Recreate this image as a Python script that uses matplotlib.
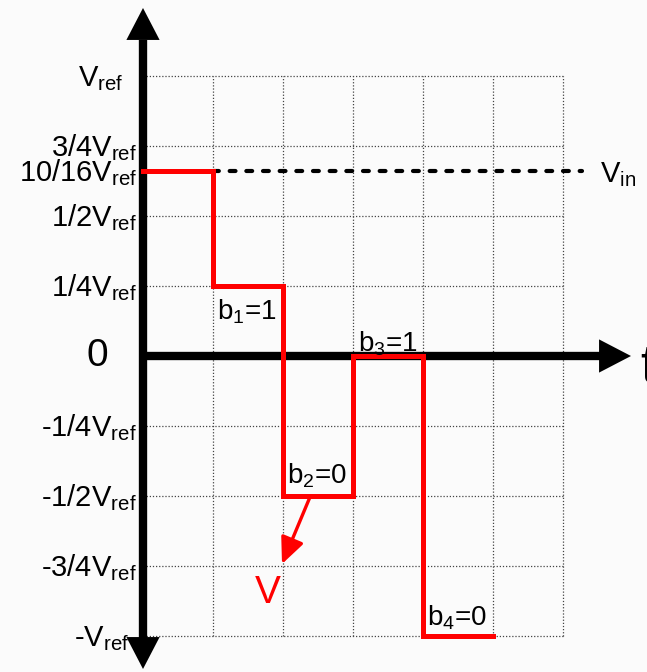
import matplotlib
matplotlib.use("Agg")
import matplotlib.pyplot as plt

plt.rcParams['font.family'] = 'Liberation Sans'
plt.rcParams['mathtext.fontset'] = 'custom'
plt.rcParams['mathtext.rm'] = 'Liberation Sans'
plt.rcParams['mathtext.it'] = 'Liberation Sans'

# data (voltages in units of Vref, time in conversion steps)
vin = 0.66
step_t = [0, 1, 2, 3, 4, 5]
step_v = [0.66, 0.25, -0.5, 0, -1, -1]
bit_names = ['b$_1$=1', 'b$_2$=0', 'b$_3$=1', 'b$_4$=0']
tick_vals = [1, 0.75, 0.66, 0.5, 0.25, -0.25, -0.5, -0.75, -1]
tick_labels = ['V$_{\\mathrm{ref}}$', '3/4V$_{\\mathrm{ref}}$', '10/16V$_{\\mathrm{ref}}$',
               '1/2V$_{\\mathrm{ref}}$', '1/4V$_{\\mathrm{ref}}$', '-1/4V$_{\\mathrm{ref}}$',
               '-1/2V$_{\\mathrm{ref}}$', '-3/4V$_{\\mathrm{ref}}$', '-V$_{\\mathrm{ref}}$']
grid_t = [1, 2, 3, 4, 5, 6]
grid_v = [1, 0.75, 0.5, 0.25, -0.25, -0.5, -0.75, -1]

# pixel -> data helpers for layout
def px(x):
    return (x - 143) / 70.0

def py(y):
    return (356 - y) / 280.0

fig = plt.figure(figsize=(6.47, 6.72), dpi=100, facecolor='#fbfbfb')
ax = fig.add_axes([0, 0, 1, 1])
ax.set_facecolor('#fbfbfb')
ax.set_xlim(px(0), px(647))
ax.set_ylim(py(672), py(0))
ax.axis('off')

# dotted grid
for g in grid_t:
    ax.plot([g, g], [-1, 1], color='#444444', lw=0.9, ls=(0, (1, 1.5)), zorder=1)
for g in grid_v:
    ax.plot([0, 6], [g, g], color='#444444', lw=0.9, ls=(0, (1, 1.5)), zorder=1)

# axes with arrow heads
ax.plot([0, 0], [py(644), py(40)], color='black', lw=6, solid_capstyle='butt', zorder=3)
ax.plot([0, px(600)], [0, 0], color='black', lw=6, solid_capstyle='butt', zorder=3)
head = dict(arrowstyle='-|>,head_length=1.0,head_width=0.52', lw=0, color='black',
            shrinkA=0, shrinkB=0, mutation_scale=23)
ax.annotate('', xy=(0, py(8)), xytext=(0, py(60)), arrowprops=head, zorder=4)
ax.annotate('', xy=(0, py(669)), xytext=(0, py(620)), arrowprops=head, zorder=4)
ax.annotate('', xy=(px(631), 0), xytext=(px(580), 0), arrowprops=head, zorder=4)

# Vin dashed line
ax.plot([1, px(582)], [vin, vin], color='black', lw=3, ls=(0, (1.4, 2.6)),
        dash_capstyle='round', zorder=2)

# red staircase
ax.plot(step_t, step_v, drawstyle='steps-post', color='#ff0000', lw=3.6,
        solid_joinstyle='miter', zorder=5)

# y labels
right_edge = {0: 123, 8: 129}
for i, (v, lab) in enumerate(zip(tick_vals, tick_labels)):
    ax.text(px(right_edge.get(i, 137)), v - 10.5 / 280, lab, ha='right', va='baseline',
            fontsize=21, zorder=6)
ax.text(px(97), 0, '0', ha='center', va='center', fontsize=28)
ax.text(px(640), py(382), 't', ha='left', va='baseline', fontsize=38)
ax.text(px(600), vin - 11 / 280, 'V$_{\\mathrm{in}}$', ha='left', va='baseline', fontsize=21)

# bit labels
bit_pos = [(217, 320), (287, 483), (358, 352), (427, 626)]
for name, (bx, by) in zip(bit_names, bit_pos):
    ax.text(px(bx), py(by), name, ha='left', va='baseline', fontsize=20, zorder=7)

# red arrow and V label
ax.annotate('', xy=(px(282), py(564)), xytext=(px(310), py(497)),
            arrowprops=dict(arrowstyle='-|>,head_length=1.0,head_width=0.45', lw=2.4,
                            color='#ff0000', shrinkA=0, shrinkB=0, mutation_scale=16),
            zorder=6)
ax.text(px(268), py(603), 'V', color='#ff0000', ha='center', va='baseline', fontsize=28)

fig.savefig('out.png', dpi=100, facecolor=fig.get_facecolor())
